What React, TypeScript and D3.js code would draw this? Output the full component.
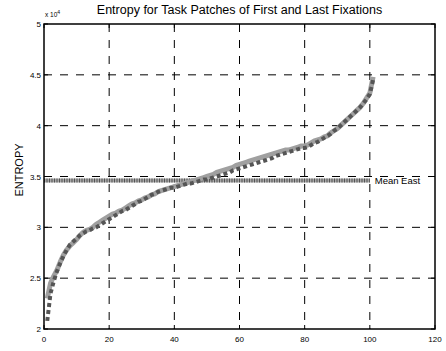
import React from "react";
import * as d3 from "d3";

const xTicks = [0, 20, 40, 60, 80, 100, 120];
const yTicks = [20000, 25000, 30000, 35000, 40000, 45000, 50000];
const yTickLabels = ["2", "2.5", "3", "3.5", "4", "4.5", "5"];

const firstFix = [
  23000, 24500, 25200, 25800, 26600, 27300, 27800, 28200, 28500, 28800,
  29200, 29500, 29700, 29800, 30000, 30300, 30500, 30700, 30900, 31100,
  31300, 31400, 31600, 31700, 31900, 32100, 32300, 32400, 32600, 32700,
  32900, 33000, 33200, 33300, 33500, 33600, 33700, 33800, 33900, 34000,
  34100, 34200, 34300, 34400, 34500, 34600, 34700, 34800, 34900, 35000,
  35100, 35200, 35400, 35500, 35600, 35700, 35800, 35900, 36100, 36200,
  36300, 36400, 36500, 36600, 36700, 36800, 36900, 37000, 37100, 37200,
  37300, 37400, 37500, 37600, 37600, 37700, 37800, 37900, 38000, 38000,
  38100, 38300, 38500, 38600, 38700, 38900, 39000, 39300, 39500, 39700,
  40000, 40300, 40600, 40900, 41200, 41500, 41800, 42200, 42700, 43200,
  44800,
];

const lastFix = [
  20800, 23500, 24700, 25700, 26500, 27200, 27800, 28300, 28600, 28900,
  29200, 29400, 29600, 29700, 29900, 30000, 30200, 30400, 30600, 30800,
  31000, 31200, 31400, 31600, 31700, 31900, 32100, 32300, 32500, 32600,
  32800, 33000, 33200, 33300, 33500, 33600, 33700, 33800, 33900, 33900,
  34000, 34100, 34200, 34300, 34300, 34400, 34500, 34600, 34700, 34700,
  34800, 34900, 35000, 35100, 35200, 35300, 35400, 35600, 35700, 35800,
  35900, 36000, 36100, 36200, 36300, 36400, 36500, 36600, 36700, 36800,
  37000, 37100, 37200, 37300, 37400, 37500, 37600, 37700, 37800, 37800,
  37900, 38100, 38300, 38400, 38600, 38800, 39000, 39200, 39500, 39700,
  40000, 40300, 40600, 40900, 41200, 41500, 41800, 42200, 42600, 43100,
  44500,
];

const meanX = [0, 100];
const meanFirst = [34600, 34600];
const meanLast = [34600, 34600];
const meanLabel = "Mean East";

const W = 446;
const H = 351;
const M = { left: 44, right: 435, top: 24, bottom: 329 };
const FONT = "'Liberation Sans', Arial, sans-serif";

export default function App() {
  const x = d3.scaleLinear().domain([0, 120]).range([M.left, M.right]);
  const y = d3.scaleLinear().domain([20000, 50000]).range([M.bottom, M.top]);

  const line = d3
    .line<[number, number]>()
    .x((d) => x(d[0]))
    .y((d) => y(d[1]));

  const firstPts: [number, number][] = firstFix.map((v, i) => [i + 1, v]);
  const lastPts: [number, number][] = lastFix.map((v, i) => [i + 1, v]);
  const mFirst: [number, number][] = meanX.map((v, i) => [v, meanFirst[i]]);
  const mLast: [number, number][] = meanX.map((v, i) => [v, meanLast[i]]);

  return (
    <svg
      width={W}
      height={H}
      style={{ position: "absolute", left: 0, top: 0, background: "#fff" }}
    >
      <rect x={0} y={0} width={W} height={H} fill="#fff" />
      {xTicks
        .filter((t) => t > 0 && t < 120)
        .map((t) => (
          <line
            key={"gx" + t}
            x1={x(t)}
            x2={x(t)}
            y1={M.top}
            y2={M.bottom}
            stroke="#000"
            strokeWidth={1}
            strokeDasharray="8,8"
          />
        ))}
      {yTicks
        .filter((t) => t > 20000 && t < 50000)
        .map((t) => (
          <line
            key={"gy" + t}
            x1={M.left}
            x2={M.right}
            y1={y(t)}
            y2={y(t)}
            stroke="#000"
            strokeWidth={1}
            strokeDasharray="8,8"
          />
        ))}
      <path d={line(mFirst) || ""} fill="none" stroke="#a8a8a8" strokeWidth={4} />
      <path
        d={line(mLast) || ""}
        fill="none"
        stroke="#555"
        strokeWidth={4}
        strokeDasharray="1,1.5"
      />
      <path
        d={line(firstPts) || ""}
        fill="none"
        stroke="#a0a0a0"
        strokeWidth={5}
        strokeLinejoin="round"
      />
      <path
        d={line(lastPts) || ""}
        fill="none"
        stroke="#555"
        strokeWidth={4}
        strokeDasharray="4,3"
      />
      <text
        x={x(101.5)}
        y={y(34600) + 3.5}
        fontFamily={FONT}
        fontSize={9.5}
        fill="#000"
      >
        {meanLabel}
      </text>
      <rect
        x={M.left}
        y={M.top}
        width={M.right - M.left}
        height={M.bottom - M.top}
        fill="none"
        stroke="#000"
        strokeWidth={1.5}
      />
      {xTicks.map((t) => (
        <g key={"tx" + t}>
          <line x1={x(t)} x2={x(t)} y1={M.bottom} y2={M.bottom - 4} stroke="#000" />
          <line x1={x(t)} x2={x(t)} y1={M.top} y2={M.top + 4} stroke="#000" />
          <text
            x={x(t)}
            y={M.bottom + 13}
            textAnchor="middle"
            fontFamily={FONT}
            fontSize={8}
          >
            {t}
          </text>
        </g>
      ))}
      {yTicks.map((t, i) => (
        <g key={"ty" + t}>
          <line x1={M.left} x2={M.left + 4} y1={y(t)} y2={y(t)} stroke="#000" />
          <line x1={M.right} x2={M.right - 4} y1={y(t)} y2={y(t)} stroke="#000" />
          <text
            x={M.left - 3}
            y={y(t) + 3}
            textAnchor="end"
            fontFamily={FONT}
            fontSize={8}
          >
            {yTickLabels[i]}
          </text>
        </g>
      ))}
      <text x={M.left + 1} y={17} fontFamily={FONT} fontSize={6.5}>
        x 10
        <tspan dy={-3} fontSize={5}>
          4
        </tspan>
      </text>
      <text
        x={(M.left + M.right) / 2}
        y={14}
        textAnchor="middle"
        fontFamily={FONT}
        fontSize={12.5}
      >
        Entropy for Task Patches of First and Last Fixations
      </text>
      <text
        transform={`translate(23,170) rotate(-90)`}
        textAnchor="middle"
        fontFamily={FONT}
        fontSize={11}
      >
        ENTROPY
      </text>
    </svg>
  );
}
